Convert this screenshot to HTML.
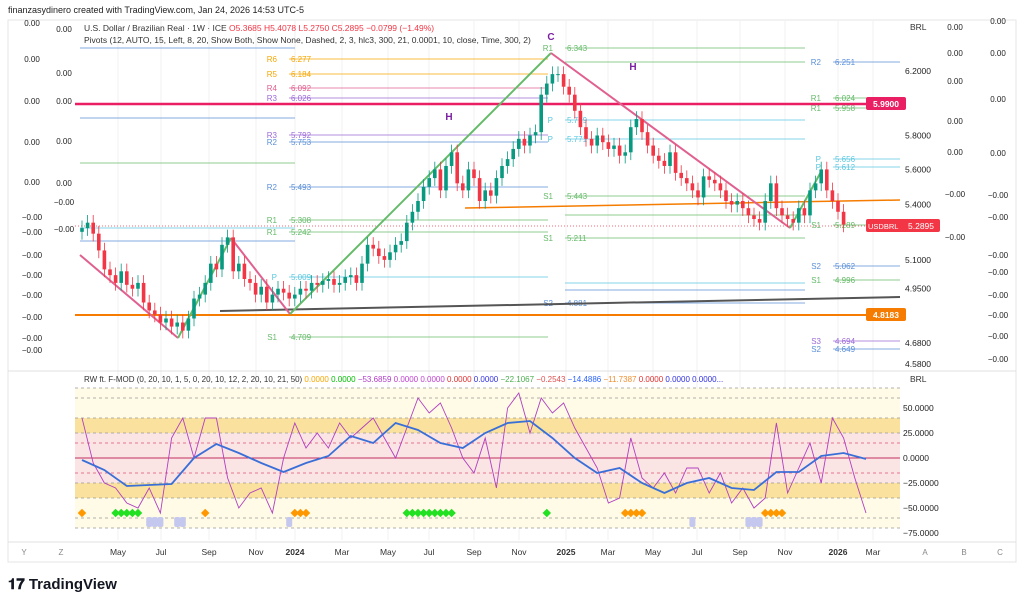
<!DOCTYPE html>
<html><head><meta charset="utf-8"><style>
body{margin:0;width:1024px;height:604px;background:#fff;font-family:"Liberation Sans",sans-serif;overflow:hidden;position:relative}
svg{position:absolute;left:0;top:0}
</style></head><body>
<svg id="c" width="1024" height="604" xmlns="http://www.w3.org/2000/svg" font-family="Liberation Sans, sans-serif">
<rect x="8" y="20" width="1008" height="542" fill="#fff" stroke="#e6e6e6"/>
<text x="8" y="13" font-size="9" fill="#222">finanzasydinero created with TradingView.com, Jan 24, 2026 14:53 UTC-5</text>
<g id="grid"></g><g id="pivots"></g><g id="trend"></g><g id="candles"></g><g id="osc"></g><g id="axes"></g>
<text x="84" y="31" font-size="8.5" fill="#333">U.S. Dollar / Brazilian Real · 1W · ICE <tspan fill="#f23645">O5.3685 H5.4078 L5.2750 C5.2895 −0.0799 (−1.49%)</tspan></text>
<text x="84" y="43" font-size="8.5" fill="#333">Pivots (12, AUTO, 15, Left, 8, 20, Show Both, Show None, Dashed, 2, 3, hlc3, 300, 21, 0.0001, 10, close, Time, 300, 2)</text>
<text x="84" y="382" font-size="8" fill="#333">RW ft. F-MOD (0, 20, 10, 1, 5, 0, 20, 10, 12, 2, 20, 10, 21, 50) <tspan fill="#f7a600">0.0000</tspan> <tspan fill="#00c000">0.0000</tspan> <tspan fill="#b03cc8">−53.6859</tspan> <tspan fill="#c040d0">0.0000 0.0000</tspan> <tspan fill="#e03030">0.0000</tspan> <tspan fill="#3030e0">0.0000</tspan> <tspan fill="#4caf50">−22.1067</tspan> <tspan fill="#e05050">−0.2543</tspan> <tspan fill="#2962ff">−14.4886</tspan> <tspan fill="#f09030">−11.7387</tspan> <tspan fill="#e03030">0.0000</tspan> <tspan fill="#3030e0">0.0000 0.0000...</tspan></text>
<g><text x="8" y="589" font-size="15" font-weight="bold" fill="#131722">𝟏𝟕 TradingView</text></g>
</svg>
<script>
const closes=[5.27,5.30,5.24,5.15,5.05,5.02,4.98,5.04,4.97,4.95,4.98,4.88,4.84,4.82,4.78,4.80,4.76,4.78,4.74,4.80,4.90,4.92,4.98,5.08,5.05,5.18,5.22,5.04,5.08,5.00,4.98,4.92,4.96,4.88,4.92,4.95,4.93,4.90,
4.92,4.95,4.94,4.98,4.97,4.99,5.00,4.97,4.98,5.01,5.02,4.98,5.08,5.18,5.16,5.12,5.10,5.14,5.18,5.20,5.30,5.36,5.42,5.50,5.55,5.60,5.48,5.62,5.70,5.52,5.48,5.60,5.55,5.42,5.48,5.45,5.55,5.62,5.66,5.72,5.78,5.74,5.80,5.82,6.05,6.12,6.18,6.18,
6.10,6.05,5.95,5.85,5.78,5.74,5.80,5.76,5.72,5.74,5.68,5.70,5.85,5.90,5.82,5.74,5.68,5.65,5.62,5.70,5.58,5.55,5.52,5.48,5.44,5.56,5.54,5.52,5.48,5.42,5.40,5.42,5.38,5.34,5.32,5.30,5.42,5.52,5.38,5.34,5.32,5.30,5.38,5.34,5.48,5.52,5.60,5.48,5.42,5.36,5.29];
const firstOpen=5.25;
const blueVals=[-2,-12,-28,-27,-26,0,14,5,-5,-14,-5,2,22,15,35,28,15,10,25,35,37,20,0,-15,-10,-25,-35,-25,-20,-30,-32,-14,-14,2,5,-1];
const purpleVals=[40,-5,-25,-30,-45,-50,-30,-55,20,40,0,40,40,-20,-50,-35,-30,-55,0,35,10,25,10,35,20,30,40,20,0,30,60,45,55,30,0,-15,20,-30,50,65,25,60,45,55,30,10,-10,-45,-40,20,-20,-30,-15,-35,-10,-10,-35,-15,-45,-30,-50,-40,35,-35,-10,15,-25,40,20,-20,-55];
const greenDiamonds=[6,7,8,9,10,58,59,60,61,62,63,64,65,66,83];
const orangeDiamonds=[0,22,38,39,40,97,98,99,100,122,123,124,125];
const lavenderMarks=[12,13,14,17,18,37,109,119,120,121];
const monthLabels=["May","Jul","Sep","Nov","2024","Mar","May","Jul","Sep","Nov","2025","Mar","May","Jul","Sep","Nov","2026","Mar"];
const monthX=[118,161,209,256,295,342,388,429,474,519,566,608,653,697,740,785,838,873];
const priceTicks=[6.2,5.8,5.6,5.4,5.1,4.95,4.68,4.58];
const oscTicks=[50,25,0,-25,-50,-75];

const NS="http://www.w3.org/2000/svg";
const xC=i=>82+i*5.6;
const yP=p=>71+(Math.log(6.2)-Math.log(p))*967;
const yO=v=>458-v*1.0;
function mk(tag,attrs,parent){const e=document.createElementNS(NS,tag);for(const k in attrs)e.setAttribute(k,attrs[k]);document.getElementById(parent).appendChild(e);return e;}

// grid
monthX.forEach(x=>{mk('line',{x1:x,x2:x,y1:20,y2:540,stroke:'#f2f2f2'},'grid');});
// oscillator backgrounds
mk('rect',{x:75,y:yO(70),width:825,height:yO(-70)-yO(70),fill:'#fffbe6'},'osc');
mk('rect',{x:75,y:yO(40),width:825,height:15,fill:'#f9dc8c','fill-opacity':0.8},'osc');
mk('rect',{x:75,y:yO(-25),width:825,height:15,fill:'#f9dc8c','fill-opacity':0.8},'osc');
mk('rect',{x:75,y:yO(25),width:825,height:50,fill:'#fbe4e4'},'osc');
[70,60,40,25,15,-15,-25,-40,-60,-70].forEach(v=>{mk('line',{x1:75,x2:900,y1:yO(v),y2:yO(v),stroke:Math.abs(v)==15?'#e05070':'#999','stroke-dasharray':'3,3','stroke-width':0.8},'osc');});
mk('line',{x1:75,x2:900,y1:yO(0),y2:yO(0),stroke:'#c03060','stroke-width':1},'osc');

// pivot lines (annotation)
const piv=[[289,548,59,'#f7a600','R6','6.277'],[289,548,74,'#f7a600','R5','6.184'],[289,548,88,'#e06090','R4','6.092'],[289,548,98,'#9c6ad8','R3','6.026'],[289,548,135,'#9c6ad8','R3','5.792'],[289,548,142,'#5b8fd8','R2','5.753'],[289,548,187,'#5b8fd8','R2','5.493'],[289,548,220,'#66bb6a','R1','5.308'],[289,548,232,'#66bb6a','R1','5.242'],[289,548,277,'#5bc8e0','P','5.009'],[289,548,337,'#66bb6a','S1','4.709'],
[565,805,48,'#66bb6a','R1','6.343'],[565,805,120,'#5bc8e0','P','5.779'],[565,805,139,'#5bc8e0','P','5.771'],[565,805,196,'#66bb6a','S1','5.443'],[565,805,238,'#66bb6a','S1','5.211'],[565,805,303,'#5b8fd8','S2','4.881'],
[833,900,62,'#5b8fd8','R2','6.251'],[833,900,98,'#66bb6a','R1','6.024'],[833,900,108,'#66bb6a','R1','5.958'],[833,900,159,'#5bc8e0','P','5.656'],[833,900,167,'#5bc8e0','P','5.612'],[833,900,225,'#66bb6a','S1','5.289'],[833,900,266,'#5b8fd8','S2','5.062'],[833,900,280,'#66bb6a','S1','4.996'],[833,900,341,'#9c6ad8','S3','4.694'],[833,900,349,'#5b8fd8','S2','4.649']];
piv.forEach(p=>{mk('line',{x1:p[0],x2:p[1],y1:p[2],y2:p[2],stroke:p[3],'stroke-width':0.8},'pivots');
 const t=mk('text',{x:p[0]-12,y:p[2]+3,'font-size':8,fill:p[3],'text-anchor':'end'},'pivots');t.textContent=p[4];
 const t2=mk('text',{x:p[0]+2,y:p[2]+3,'font-size':8,fill:p[3]},'pivots');t2.textContent=p[5];});
[[80,295,48,'#5b8fd8'],[80,295,118,'#5b8fd8'],[80,295,163,'#66bb6a'],[80,295,228,'#5bc8e0'],[80,295,241,'#5b8fd8'],[565,805,62,'#66bb6a'],[565,805,215,'#66bb6a'],[565,805,283,'#5bc8e0'],[565,805,290,'#5b8fd8']].forEach(l=>mk('line',{x1:l[0],x2:l[1],y1:l[2],y2:l[2],stroke:l[3],'stroke-width':0.7},'pivots'));
// horizontal levels
mk('line',{x1:75,x2:900,y1:104,y2:104,stroke:'#e91e63','stroke-width':2.5},'trend');
mk('line',{x1:75,x2:900,y1:315,y2:315,stroke:'#f57c00','stroke-width':2},'trend');
mk('line',{x1:75,x2:900,y1:226,y2:226,stroke:'#f23645','stroke-dasharray':'1,2','stroke-width':0.7},'trend');
mk('line',{x1:465,x2:900,y1:208,y2:200,stroke:'#f57c00','stroke-width':1.5},'trend');
mk('line',{x1:220,x2:900,y1:311,y2:297,stroke:'#555','stroke-width':2},'trend');
[[80,255,178,338,'#e06090'],[178,338,231,238,'#66bb6a'],[231,238,290,314,'#e06090'],[290,314,551,53,'#66bb6a'],[551,53,790,228,'#e06090'],[790,228,822,170,'#66bb6a']].forEach(s=>mk('line',{x1:s[0],y1:s[1],x2:s[2],y2:s[3],stroke:s[4],'stroke-width':2},'trend'));
[['H',449,120],['C',551,40],['H',633,70]].forEach(h=>{const t=mk('text',{x:h[1],y:h[2],'font-size':10,'font-weight':'bold',fill:'#7b1fa2','text-anchor':'middle'},'trend');t.textContent=h[0];});

// candles
let prev=firstOpen;
closes.forEach((c,i)=>{const o=prev;prev=c;const up=c>=o;const col=up?'#089981':'#f23645';
 const hi=Math.max(o,c)*1.008,lo=Math.min(o,c)*0.992;const x=xC(i);
 const w=mk('line',{x1:x,x2:x,y1:yP(hi),y2:yP(lo),stroke:col,'stroke-width':0.8},'candles');
 
 
 const yt=yP(Math.max(o,c)),yb=yP(Math.min(o,c));
 const b=mk('rect',{x:x-1.8,y:yt,width:3.6,height:Math.max(1,yb-yt),fill:col},'candles');
 
 });

// oscillator lines
let pp=purpleVals.map((v,i)=>xC(i*2)+','+yO(v)).join(' ');
const pl=mk('polyline',{points:pp,fill:'none',stroke:'#b040c0','stroke-width':0.9},'osc');


let bp=blueVals.map((v,i)=>xC(i*4)+','+yO(v)).join(' ');
const bl=mk('polyline',{points:bp,fill:'none',stroke:'#3a6fd8','stroke-width':1.8},'osc');


greenDiamonds.forEach(i=>{const d=mk('rect',{x:xC(i)-3,y:510,width:6,height:6,fill:'#22e022',transform:`rotate(45 ${xC(i)} 513)`},'osc');
 
 });
orangeDiamonds.forEach(i=>{const d=mk('rect',{x:xC(i)-3,y:510,width:6,height:6,fill:'#ff9800',transform:`rotate(45 ${xC(i)} 513)`},'osc');
 
 });
lavenderMarks.forEach(i=>{const d=mk('rect',{x:xC(i)-3,y:517,width:6,height:10,rx:2,fill:'#c5c8ee'},'osc');
 
 });

// axes
mk('line',{x1:8,x2:1016,y1:371,y2:371,stroke:'#e0e0e0'},'axes');
mk('line',{x1:8,x2:1016,y1:542,y2:542,stroke:'#e0e0e0'},'axes');
priceTicks.forEach(p=>{const t=mk('text',{x:905,y:yP(p)+3,'font-size':8.5,fill:'#222'},'axes');t.textContent=p.toFixed(4);
 
 });
oscTicks.forEach(v=>{const t=mk('text',{x:903,y:yO(v)+3,'font-size':8.5,fill:'#222'},'axes');t.textContent=(v<0?'−':'')+Math.abs(v).toFixed(4);
 
 });
monthLabels.forEach((m,i)=>{const t=mk('text',{x:monthX[i],y:555,'font-size':8.5,fill:'#333','text-anchor':'middle','font-weight':/^20/.test(m)?'bold':'normal'},'axes');t.textContent=m;
 
 });
[['Y',24],['Z',61],['A',925],['B',964],['C',1000]].forEach(a=>{const t=mk('text',{x:a[1],y:555,'font-size':8,fill:'#888','text-anchor':'middle'},'axes');t.textContent=a[0];});
[['BRL',30],['BRL',382]].forEach(a=>{const t=mk('text',{x:910,y:a[1],'font-size':8.5,fill:'#333'},'axes');t.textContent=a[0];});
// side decorative columns
[[32,26],[32,62],[32,104],[32,145],[32,185],[32,220],[32,235],[32,258],[32,278],[32,298],[32,320],[32,341],[32,353],
 [64,32],[64,76],[64,104],[64,144],[64,186],[64,205],[64,232],
 [955,30],[955,56],[955,84],[955,124],[955,155],[955,197],[955,240],
 [998,24],[998,56],[998,102],[998,156],[998,198],[998,220],[998,258],[998,275],[998,298],[998,318],[998,339],[998,362]].forEach((c,i)=>{
 const t=mk('text',{x:c[0],y:c[1],'font-size':8,fill:'#222','text-anchor':'middle'},'axes');t.textContent=(c[1]>190&&c[0]!=64)||(c[0]==64&&c[1]>200)?'−0.00':'0.00';});
// price tags
[[104,'#e91e63','5.9900'],[315,'#f57c00','4.8183']].forEach(g=>{mk('rect',{x:866,y:g[0]-7,width:40,height:13,rx:2,fill:g[1]},'axes');
 const t=mk('text',{x:886,y:g[0]+3,'font-size':8.5,fill:'#fff','text-anchor':'middle','font-weight':'bold'},'axes');t.textContent=g[2];});
mk('rect',{x:866,y:219,width:40,height:13,rx:2,fill:'#f23645'},'axes');
let t1=mk('text',{x:868,y:229,'font-size':7.5,fill:'#fff'},'axes');t1.textContent='USDBRL';


mk('rect',{x:866,y:219,width:40,height:13,fill:'none'},'axes');
mk('rect',{x:902,y:219,width:38,height:13,rx:2,fill:'#f23645'},'axes');
let t2=mk('text',{x:921,y:229,'font-size':8.5,fill:'#fff','text-anchor':'middle'},'axes');t2.textContent='5.2895';


</script>
</body></html>
